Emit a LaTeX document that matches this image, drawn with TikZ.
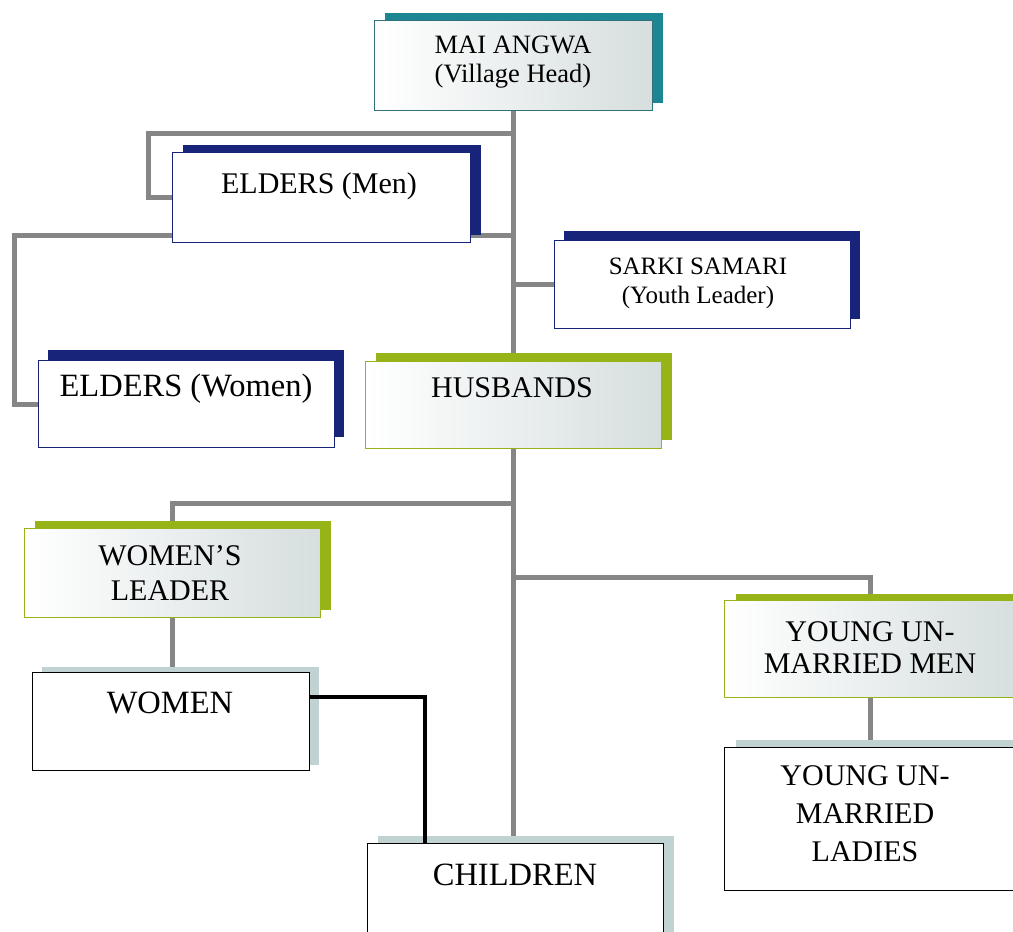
\documentclass[tikz,border=0pt]{standalone}
\usepackage{fontspec}
\setmainfont{Liberation Serif}
\usetikzlibrary{shadows,backgrounds,calc}

\definecolor{tealC}{RGB}{28,134,148}
\definecolor{tealB}{RGB}{50,112,122}
\definecolor{navyC}{RGB}{24,36,122}
\definecolor{greenC}{RGB}{150,180,24}
\definecolor{paleC}{RGB}{192,210,210}
\definecolor{shadeC}{RGB}{214,222,222}
\definecolor{lineC}{RGB}{134,134,134}

\tikzset{
  box/.style={rectangle, anchor=north west, inner sep=0pt, line width=1.4pt},
  boxsize/.style 2 args={minimum width=#1pt, minimum height=#2pt},
  castshadow/.style n args={3}{drop shadow={shadow xshift=#1pt, shadow yshift=#2pt, fill=#3, opacity=1}},
  plainbox/.style={fill=white},
  shadedbox/.style={left color=white, middle color=white!70!shadeC, right color=shadeC},
  lbl/.style={inner sep=0pt, align=center, font=\fontsize{30}{35}\selectfont},
  biglbl/.style={inner sep=0pt, align=center, font=\fontsize{32.5}{38}\selectfont},
  smalllbl/.style={inner sep=0pt, align=center, font=\fontsize{26.5}{29}\selectfont},
  conn/.style={draw=lineC, line width=5pt},
  blackconn/.style={draw=black, line width=4.5pt}
}

\begin{document}
\begin{tikzpicture}[x=1pt, y=-1pt]
\useasboundingbox (0,0) rectangle (1013,932);

% boxes with their offset shadows
\node[box, boxsize={278}{90}, shadedbox, draw=tealB, castshadow={10}{8}{tealC}] (mai) at (374,20) {};
\node[box, boxsize={298}{90}, plainbox, draw=navyC, castshadow={10}{8}{navyC}] (em) at (172,152) {};
\node[box, boxsize={296}{88}, plainbox, draw=navyC, castshadow={9}{10}{navyC}] (ss) at (554,240) {};
\node[box, boxsize={296}{87}, plainbox, draw=navyC, castshadow={9}{11}{navyC}] (ew) at (38,360) {};
\node[box, boxsize={296}{87}, shadedbox, draw=greenC, castshadow={10}{9}{greenC}] (hb) at (365,361) {};
\node[box, boxsize={296}{89}, shadedbox, draw=greenC, castshadow={10}{8}{greenC}] (wl) at (24,528) {};
\node[box, boxsize={277}{98}, plainbox, draw=black, castshadow={9}{6}{paleC}] (wo) at (32,672) {};
\node[box, boxsize={296}{100}, plainbox, draw=black, castshadow={10}{8}{paleC}] (ch) at (367,843) {};
\node[box, boxsize={292}{97}, shadedbox, draw=greenC, castshadow={11}{7}{greenC}] (ym) at (724,600) {};
\node[box, boxsize={292}{143}, plainbox, draw=black, castshadow={11}{8}{paleC}] (yl) at (724,747) {};

% texts
\node[smalllbl] (mai-t) at (513,62) {MAI ANGWA\\(Village Head)};
\node[lbl] (em-t) at (319,186) {ELDERS (Men)};
\node[smalllbl, font=\fontsize{25}{29}\selectfont] (ss-t) at (698,283) {SARKI SAMARI\\(Youth Leader)};
\node[biglbl] (ew-t) at (186,389) {ELDERS (Women)};
\node[lbl] (hb-t) at (512,388) {HUSBANDS};
\node[lbl] (wl-t) at (170,573) {WOMEN’S\\LEADER};
\node[biglbl] (wo-t) at (170,703) {WOMEN};
\node[lbl, font=\fontsize{30}{32}\selectfont] (ym-t) at (870,648) {YOUNG UN-\\MARRIED MEN};
\node[lbl, font=\fontsize{30}{38}\selectfont] (yl-t) at (865,814) {YOUNG UN-\\MARRIED\\LADIES};
\node[biglbl] (ch-t) at (515,875) {CHILDREN};

% link from the women to the children, over the shadows
\draw[blackconn] ($(wo.north east)+(0,25)$) -| ($(ch.north west)+(58,0)$);

% grey connectors behind the boxes
\begin{pgfonlayer}{background}
\draw[conn] (mai.south) -- (mai.south |- ch.north);
\draw[conn] (em.west) -- ++(-24,0) |- (mai.south |- 0,133);
\draw[conn] (ew.west) -- ++(-24,0) |- (mai.south |- 0,235);
\draw[conn] (ss.west) -- (ss.west -| mai.south);
\draw[conn] (wl.north) |- (mai.south |- 0,503);
\draw[conn] (wl.south) -- (wl.south |- wo.north);
\draw[conn] (ym.north) |- (mai.south |- 0,577);
\draw[conn] (ym.south) -- (yl.north);
\end{pgfonlayer}
\end{tikzpicture}
\end{document}
